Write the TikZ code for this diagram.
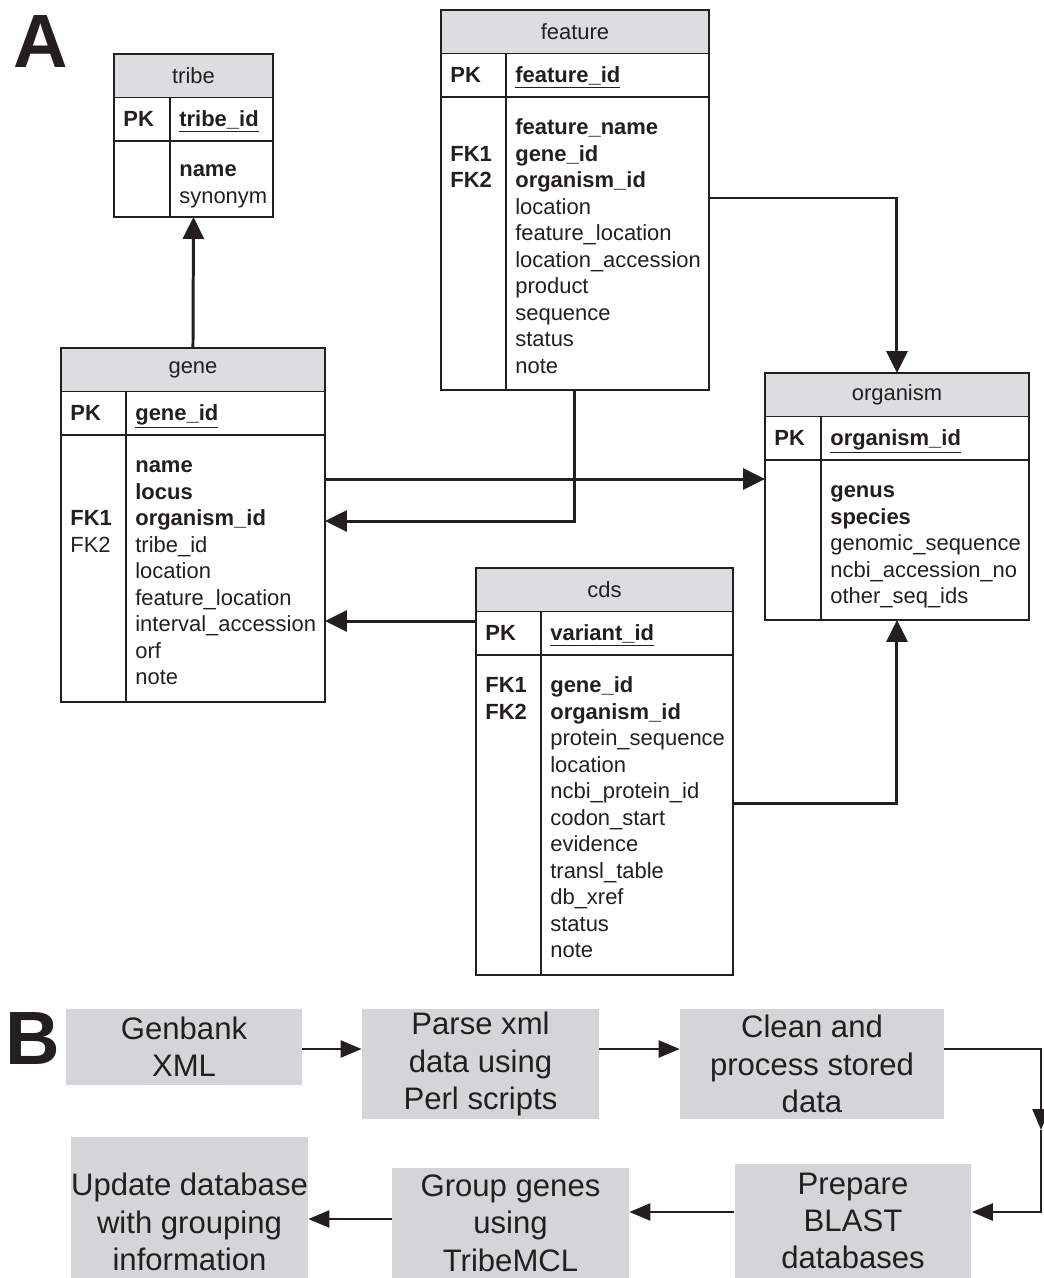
\documentclass[tikz,border=0pt]{standalone}
\usepackage{fontspec}
\setmainfont{Liberation Sans}
\usetikzlibrary{arrows.meta}

\definecolor{ink}{RGB}{35,31,32}
\definecolor{headgray}{RGB}{220,221,223}
\definecolor{boxgray}{RGB}{212,213,215}
\newcommand{\tabfont}{\fontsize{12.5}{15.08}\selectfont}
\newcommand{\flowfont}{\fontsize{17.7}{21.3}\selectfont}

\tikzset{
  tframe/.style={draw=ink, line width=1.1pt, anchor=north west, inner sep=0pt, outer sep=0pt, minimum height=0.87cm},
  ttext/.style={anchor=north west, inner sep=0pt, align=left, font=\tabfont, text=ink},
  tkey/.style={anchor=base west, inner sep=0pt, font=\tabfont\bfseries, text=ink},
  link/.style={draw=ink, line width=1.7pt, -{Triangle[length=0.44cm,width=0.42cm]}},
  stepbox/.style={fill=boxgray, inner sep=0pt, align=center, font=\flowfont, text=ink, minimum width=4.74cm, minimum height=2.2cm},
  flow/.style={draw=ink, line width=1.4pt, -{Triangle[length=0.42cm,width=0.34cm]}},
  panel/.style={inner sep=0pt, font=\fontsize{43}{43}\selectfont\bfseries, text=ink},
}

% table frame: name, x, y, width, divider, body height, title, key
\newcommand{\erdtable}[8]{%
  \node[tframe, fill=headgray, minimum width=#4, font=\tabfont, text=ink] (#1-t) at (#2,#3) {#7};
  \node[tframe, minimum width=#4] (#1-k) at (#1-t.south west) {};
  \node[tframe, minimum width=#4, minimum height=#6] (#1) at (#1-k.south west) {};
  \draw[ink, line width=1.1pt] ([xshift=#5*0.02cm]#1-k.north west) -- ([xshift=#5*0.02cm]#1.south west);
  \node[tkey] (#1-pk) at ([shift={(9,29)}]#1-k.north west) {PK};
  \node[tkey] (#1-id) at ([shift={(#5+9,29)}]#1-k.north west) {\underline{#8}};
}

\begin{document}
\begin{tikzpicture}[x=0.02cm, y=-0.02cm]
  \useasboundingbox (0,0) rectangle (1044,1278);

  % A: tables
  \node[panel] (labA) at (41,42) {A};

  \erdtable{tribe}{114}{54}{3.18cm}{56}{1.52cm}{tribe}{tribe\_id}
  \node[ttext] (tribe-col) at ([shift={(65,17)}]tribe.north west) {\strut\textbf{name}\\synonym};

  \erdtable{gene}{61}{348}{5.28cm}{65}{5.34cm}{gene}{gene\_id}
  \node[ttext] (gene-fk) at ([shift={(9,19)}]gene.north west) {\strut~\\~\\\textbf{FK1}\\FK2};
  \node[ttext] (gene-col) at ([shift={(74,19)}]gene.north west)
    {\strut\textbf{name}\\\textbf{locus}\\\textbf{organism\_id}\\tribe\_id\\location\\feature\_location\\interval\_accession\\orf\\note};

  \erdtable{feature}{441}{10}{5.36cm}{65}{5.86cm}{feature}{feature\_id}
  \node[ttext] (feature-fk) at ([shift={(9,19)}]feature.north west) {\strut~\\\textbf{FK1}\\\textbf{FK2}};
  \node[ttext] (feature-col) at ([shift={(74,19)}]feature.north west)
    {\strut\textbf{feature\_name}\\\textbf{gene\_id}\\\textbf{organism\_id}\\location\\feature\_location\\location\_accession\\product\\sequence\\status\\note};

  \erdtable{organism}{765}{373}{5.28cm}{56}{3.2cm}{organism}{organism\_id}
  \node[ttext] (organism-col) at ([shift={(65,19)}]organism.north west)
    {\strut\textbf{genus}\\\textbf{species}\\genomic\_sequence\\ncbi\_accession\_no\\other\_seq\_ids};

  \erdtable{cds}{476}{568}{5.14cm}{65}{6.4cm}{cds}{variant\_id}
  \node[ttext] (cds-fk) at ([shift={(9,19)}]cds.north west) {\strut\textbf{FK1}\\\textbf{FK2}};
  \node[ttext] (cds-col) at ([shift={(74,19)}]cds.north west)
    {\strut\textbf{gene\_id}\\\textbf{organism\_id}\\protein\_sequence\\location\\ncbi\_protein\_id\\codon\_start\\evidence\\transl\_table\\db\_xref\\status\\note};

  % A: foreign keys
  \coordinate (gene-org) at (325,479);
  \coordinate (gene-in) at (325,521);
  \coordinate (feat-org) at (709,198);
  \coordinate (cds-gene) at (476,621);
  \coordinate (cds-org) at (733,803);
  \draw[link] (gene-t.north) -- (tribe.south);
  \draw[link] (gene-org) -- (gene-org -| organism.west);
  \draw[link] (feature.south) |- (gene-in);
  \draw[link] (feat-org) -| (organism-t.north);
  \draw[link] (cds-gene) -- (cds-gene -| gene.east);
  \draw[link] (cds-org) -| (organism.south);

  % B: pipeline
  \node[panel] (labB) at (33,1038) {B};

  \node[stepbox, minimum width=4.72cm, minimum height=1.52cm] (genbank) at (184,1047) {Genbank\\XML};
  \node[stepbox] (parse) at (480.5,1064) {Parse xml\\data using\\Perl scripts};
  \node[stepbox, minimum width=5.28cm] (clean) at (812,1064) {Clean and\\process stored\\data};
  \node[stepbox, minimum height=2.28cm] (prepare) at (853,1221) {Prepare\\BLAST\\databases};
  \node[stepbox] (group) at (510.5,1223) {Group genes\\using\\TribeMCL};
  \node[stepbox, minimum height=2.82cm] (update) at (189.5,1207.5) {};
  \node[stepbox, fill=none, minimum height=0pt] (update-txt) at (189.5,1222) {Update database\\with grouping\\information};

  \coordinate (row1) at (0,1049);
  \coordinate (row2) at (0,1212);
  \coordinate (row3) at (0,1219);
  \coordinate (turn) at (1041,1130);
  \draw[flow] (genbank.east |- row1) -- (parse.west |- row1);
  \draw[flow] (parse.east |- row1) -- (clean.west |- row1);
  \draw[flow] (clean.east |- row1) -| (turn);
  \draw[flow] (turn) |- (prepare.east |- row2);
  \draw[flow] (prepare.west |- row2) -- (group.east |- row2);
  \draw[flow] (group.west |- row3) -- (update.east |- row3);
\end{tikzpicture}
\end{document}
